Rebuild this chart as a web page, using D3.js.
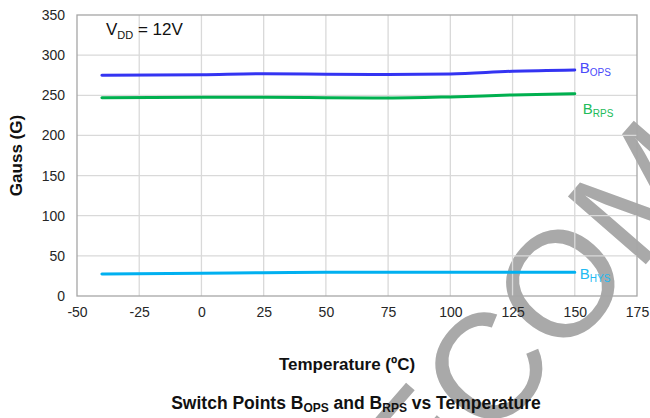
<!DOCTYPE html>
<html>
<head>
<meta charset="utf-8">
<script src="https://cdn.jsdelivr.net/npm/d3@7"></script>
<style>
  html, body { margin: 0; padding: 0; background: #fff; }
  svg { display: block; font-family: "Liberation Sans", Arial, sans-serif; }
</style>
</head>
<body>
<svg id="chart" width="650" height="418"></svg>
<script>
// Temperature sweep (°C)
const temps = [-40, 0, 25, 50, 75, 100, 125, 150];
// Switch points in Gauss
const bOps = [274.9, 275.6, 276.9, 276.3, 275.9, 276.5, 279.9, 281.5];
const bRps = [247.0, 247.5, 247.5, 247.0, 246.6, 248.0, 250.4, 252.0];
const bHys = [27.4, 28.2, 29.0, 29.5, 29.5, 29.5, 29.5, 29.5];

const xTicks = [-50, -25, 0, 25, 50, 75, 100, 125, 150, 175];
const yTicks = [0, 50, 100, 150, 200, 250, 300, 350];

const series = [
  { name: "B", sub: "OPS", values: bOps, color: "#3434f2", label: "#4a4afa", dx: 5, dy: 3 },
  { name: "B", sub: "RPS", values: bRps, color: "#00b04f", label: "#22bb5a", dx: 8, dy: 20 },
  { name: "B", sub: "HYS", values: bHys, color: "#00b0f0", label: "#22baf2", dx: 5, dy: 7 }
];

const svg = d3.select("#chart");
const x = d3.scaleLinear().domain([-50, 175]).range([77, 637]);
const y = d3.scaleLinear().domain([0, 350]).range([296, 15]);

// Background watermark
const wm = svg.append("g");
const wmText = wm.append("text")
  .attr("font-size", 150)
  .attr("fill", "#a9a9a9")
  .text("RECOMMENDED");
const node = wmText.node();
const cOffset = node.getSubStringLength(0, 2) + node.getSubStringLength(2, 1) / 2;
const ang = -49;
const rad = ang * Math.PI / 180;
const lx = cOffset, ly = -54;
const rx = lx * Math.cos(rad) - ly * Math.sin(rad);
const ry = lx * Math.sin(rad) + ly * Math.cos(rad);
const cx = 485, cy = 367;
wmText.attr("transform", `translate(${cx - rx},${cy - ry}) rotate(${ang})`);

// Grid
const grid = svg.append("g");
grid.selectAll("line.v").data(xTicks.slice(1, -1)).join("line")
  .attr("x1", d => x(d)).attr("x2", d => x(d))
  .attr("y1", y(350)).attr("y2", y(0))
  .attr("stroke", "#d9d9d9").attr("stroke-width", 1.3);
grid.selectAll("line.h").data(yTicks.slice(1, -1)).join("line")
  .attr("x1", x(-50)).attr("x2", x(175))
  .attr("y1", d => y(d)).attr("y2", d => y(d))
  .attr("stroke", "#d9d9d9").attr("stroke-width", 1.3);

// Frame
svg.append("rect")
  .attr("x", x(-50)).attr("y", y(350))
  .attr("width", x(175) - x(-50)).attr("height", y(0) - y(350))
  .attr("fill", "none").attr("stroke", "#a6a6a6").attr("stroke-width", 1.3);

// Axes (plain hyphen for negatives)
const fmt = d => String(d);
const xAxis = svg.append("g").attr("transform", `translate(0,${y(0)})`)
  .call(d3.axisBottom(x).tickValues(xTicks).tickFormat(fmt).tickSize(5).tickPadding(6));
const yAxis = svg.append("g").attr("transform", `translate(${x(-50)},0)`)
  .call(d3.axisLeft(y).tickValues(yTicks).tickFormat(fmt).tickSize(5).tickPadding(7));
[xAxis, yAxis].forEach(a => {
  a.select(".domain").remove();
  a.selectAll(".tick line").attr("stroke", "#a6a6a6");
  a.selectAll(".tick text").attr("font-size", 14).attr("fill", "#262626")
    .attr("font-family", "'Liberation Sans', Arial, sans-serif");
});
xAxis.selectAll(".tick line").attr("y2", 0);
yAxis.selectAll(".tick line").attr("x2", 0);

// Lines
const line = d3.line().x((d, i) => x(temps[i])).y(d => y(d)).curve(d3.curveMonotoneX);
series.forEach(s => {
  svg.append("path").datum(s.values)
    .attr("d", line)
    .attr("fill", "none").attr("stroke", s.color).attr("stroke-width", 3)
    .attr("stroke-linecap", "round");
  const last = s.values[s.values.length - 1];
  const t = svg.append("text")
    .attr("x", x(temps[temps.length - 1]) + s.dx)
    .attr("y", y(last) + s.dy)
    .attr("fill", s.label).attr("font-size", 15);
  t.append("tspan").text(s.name);
  t.append("tspan").attr("font-size", 10).attr("dy", 3).text(s.sub);
});

// Supply voltage note
const vdd = svg.append("text").attr("x", 106).attr("y", 35).attr("font-size", 17).attr("fill", "#111");
vdd.append("tspan").text("V");
vdd.append("tspan").attr("font-size", 11).attr("dy", 4).text("DD");
vdd.append("tspan").attr("dy", -4).text(" = 12V");

// Axis titles
svg.append("text")
  .attr("transform", `translate(22,${(y(0) + y(350)) / 2}) rotate(-90)`)
  .attr("text-anchor", "middle").attr("font-size", 17).attr("font-weight", "bold").attr("fill", "#111")
  .text("Gauss (G)");
svg.append("text")
  .attr("x", 347).attr("y", 370)
  .attr("text-anchor", "middle").attr("font-size", 17).attr("font-weight", "bold").attr("fill", "#111")
  .text("Temperature (ºC)");

// Chart title
const title = svg.append("text")
  .attr("x", 356).attr("y", 409)
  .attr("text-anchor", "middle").attr("font-size", 17.5).attr("font-weight", "bold").attr("fill", "#111");
title.append("tspan").text("Switch Points B");
title.append("tspan").attr("font-size", 12).attr("dy", 3).text("OPS");
title.append("tspan").attr("dy", -3).text(" and B");
title.append("tspan").attr("font-size", 12).attr("dy", 3).text("RPS");
title.append("tspan").attr("dy", -3).text(" vs Temperature");
</script>
</body>
</html>
